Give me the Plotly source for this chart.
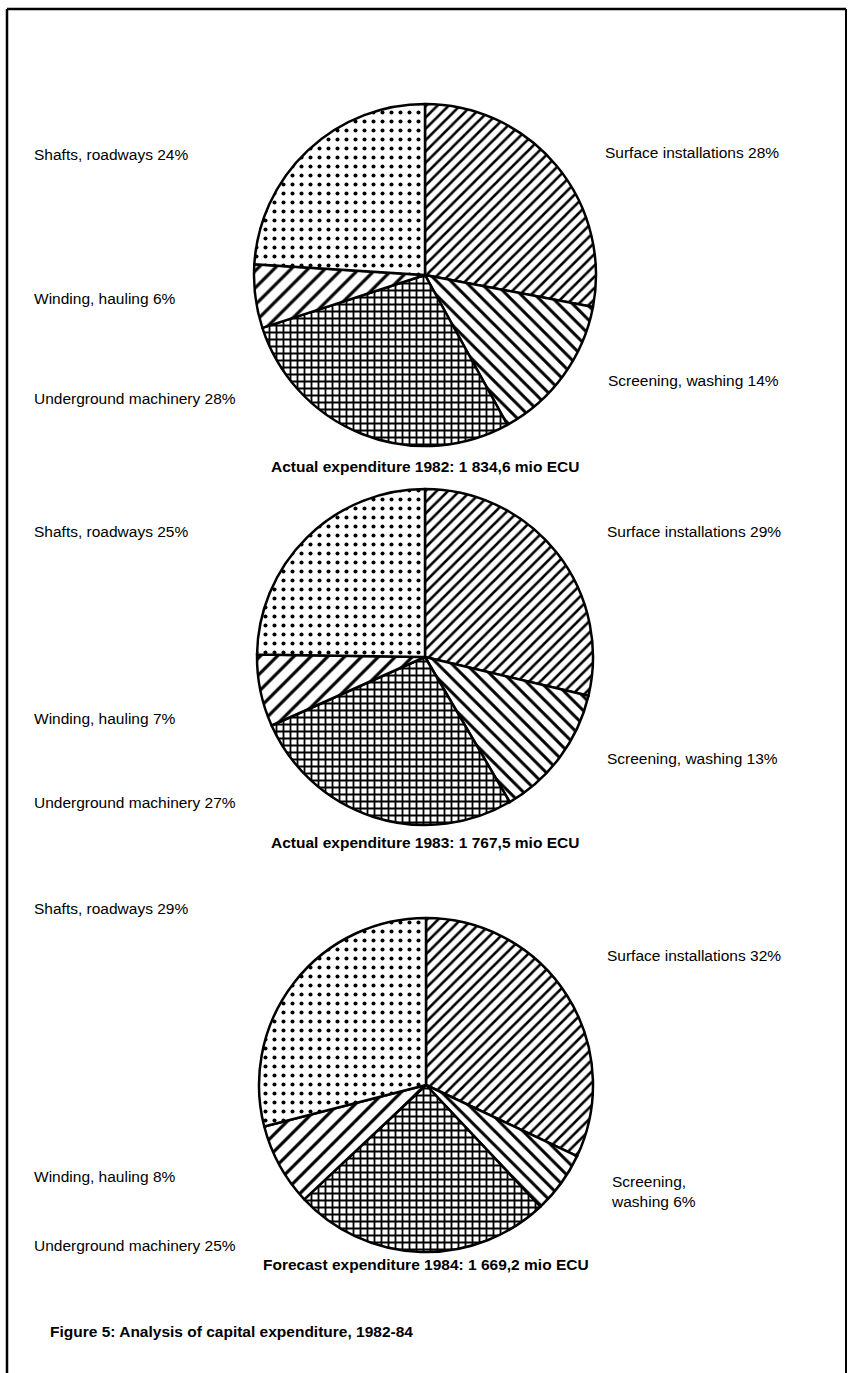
import plotly.graph_objects as go

# Slice order, clockwise from 12 o'clock
categories = [
    "Surface installations",
    "Screening, washing",
    "Underground machinery",
    "Winding, hauling",
    "Shafts, roadways",
]
share_1982 = [28, 14, 28, 6, 24]
share_1983 = [29, 13, 27, 7, 25]
share_1984 = [32, 6, 25, 8, 29]
pie_titles = [
    "Actual expenditure 1982: 1 834,6 mio ECU",
    "Actual expenditure 1983: 1 767,5 mio ECU",
    "Forecast expenditure 1984: 1 669,2 mio ECU",
]
caption = "Figure 5: Analysis of capital expenditure, 1982-84"

W, H = 850, 1373
FONT = "Liberation Sans, Arial, Helvetica, sans-serif"


def px(x):
    return x / W


def py(y):
    return 1 - y / H


# Hatch style for each category
patterns = [
    dict(shape="/", size=8, solidity=0.32),
    dict(shape="\\", size=10, solidity=0.3),
    dict(shape="+", size=7, solidity=0.45),
    dict(shape="/", size=12, solidity=0.26),
    dict(shape=".", size=9, solidity=0.16),
]

# Pie geometry (pixel centre, radius) and label placements
pies = [
    dict(values=share_1982, cx=425, cy=275, r=171, title_y=466,
         labels={0: (603, 152), 1: (606, 380), 2: (32, 398), 3: (32, 298), 4: (32, 155)}),
    dict(values=share_1983, cx=425, cy=657, r=168, title_y=842,
         labels={0: (605, 531), 1: (605, 758), 2: (32, 802), 3: (32, 718), 4: (32, 531)}),
    dict(values=share_1984, cx=426, cy=1085, r=167, title_y=1264,
         labels={0: (605, 955), 1: (609, 1191), 2: (32, 1245), 3: (32, 1176), 4: (32, 909)}),
]

fig = go.Figure()
annotations = []

for p, title in zip(pies, pie_titles):
    cx, cy, r = p["cx"], p["cy"], p["r"]
    fig.add_trace(go.Pie(
        labels=categories,
        values=p["values"],
        sort=False,
        direction="clockwise",
        rotation=0,
        textinfo="none",
        hoverinfo="label+percent",
        showlegend=False,
        domain=dict(x=[px(cx - r), px(cx + r)], y=[py(cy + r), py(cy - r)]),
        marker=dict(
            colors=["white"] * len(categories),
            line=dict(color="black", width=2.5),
            pattern=dict(
                shape=[pt["shape"] for pt in patterns],
                size=[pt["size"] for pt in patterns],
                solidity=[pt["solidity"] for pt in patterns],
                fgcolor="black",
                fgopacity=1,
                bgcolor="white",
                fillmode="overlay",
            ),
        ),
    ))
    annotations.append(dict(
        x=px(cx), y=py(p["title_y"]), xref="paper", yref="paper",
        text="<b>" + title + "</b>", showarrow=False,
        xanchor="center", yanchor="middle",
        font=dict(family=FONT, size=15.5, color="black"),
    ))
    for i, (lx, ly) in p["labels"].items():
        name = categories[i]
        val = p["values"][i]
        if val < 10 and i == 1:
            text = name.replace(", ", ",<br>") + f" {val}%"
        else:
            text = f"{name} {val}%"
        annotations.append(dict(
            x=px(lx), y=py(ly), xref="paper", yref="paper",
            text=text, showarrow=False, align="left",
            xanchor="left", yanchor="middle",
            font=dict(family=FONT, size=15.5, color="black"),
        ))

annotations.append(dict(
    x=px(48), y=py(1331), xref="paper", yref="paper",
    text="<b>" + caption + "</b>", showarrow=False,
    xanchor="left", yanchor="middle",
    font=dict(family=FONT, size=15.5, color="black"),
))

# Page frame
shapes = [
    dict(type="line", xref="paper", yref="paper", x0=px(7), x1=px(846), y0=py(9), y1=py(9),
         line=dict(color="black", width=2.5)),
    dict(type="line", xref="paper", yref="paper", x0=px(7), x1=px(7), y0=py(9), y1=py(H),
         line=dict(color="black", width=2.5)),
    dict(type="line", xref="paper", yref="paper", x0=px(846), x1=px(846), y0=py(9), y1=py(H),
         line=dict(color="black", width=2)),
]

fig.update_layout(
    width=W, height=H,
    margin=dict(l=0, r=0, t=0, b=0),
    paper_bgcolor="white",
    plot_bgcolor="white",
    annotations=annotations,
    shapes=shapes,
    font=dict(family=FONT),
)

fig.write_html("out.html")
